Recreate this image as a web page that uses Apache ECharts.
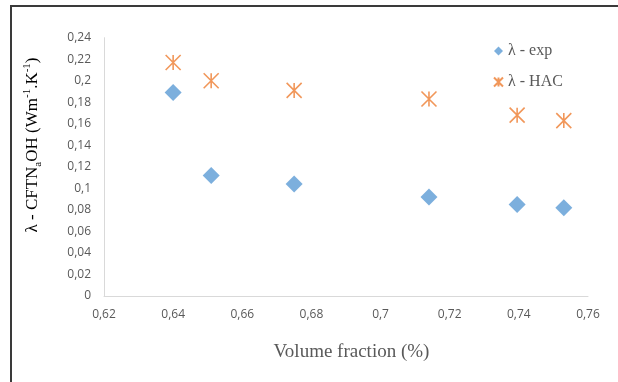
<!DOCTYPE html>
<html>
<head>
<meta charset="utf-8">
<script src="https://cdn.jsdelivr.net/npm/echarts@6/dist/echarts.min.js"></script>
<style>
  html, body { margin: 0; padding: 0; background: #fff; }
  #chart { width: 618px; height: 382px; }
</style>
</head>
<body>
<div id="chart"></div>
<script>
// Thermal conductivity vs. volume fraction: measured values and HAC model
const volumeFraction = [0.640, 0.651, 0.675, 0.714, 0.7395, 0.753];
const lambdaExp = [0.189, 0.112, 0.104, 0.092, 0.085, 0.082];
const lambdaHac = [0.217, 0.200, 0.191, 0.183, 0.168, 0.163];
const seriesNames = ['λ - exp', 'λ - HAC'];

const xAxisRange = { min: 0.62, max: 0.76, step: 0.02 };
const yAxisRange = { min: 0, max: 0.24, step: 0.02 };

// comma decimal separator, trailing zeros dropped (0,2 / 0,1 / 0)
function decimalComma(v) {
  let s = (Math.round(v * 1000) / 1000).toFixed(2);
  s = s.replace(/0+$/, '').replace(/\.$/, '');
  return s.replace('.', ',');
}

// asterisk marker: an X with a vertical stroke through it
const asteriskPath = 'path://M0,0L10,10M10,0L0,10M5,0L5,10';

const textGray = '#595959';
const serif = '"Liberation Serif", "Times New Roman", serif';
const sans = '"Open Sans", "Liberation Sans", sans-serif';

const chart = echarts.init(document.getElementById('chart'), null, { renderer: 'canvas' });

chart.setOption({
  animation: false,
  backgroundColor: '#ffffff',
  grid: { left: 104, right: 30, top: 37.7, bottom: 86, containLabel: false },
  legend: {
    orient: 'vertical',
    left: 488,
    top: 38,
    itemWidth: 9,
    itemHeight: 9,
    itemGap: 15,
    textStyle: { fontFamily: serif, fontSize: 16, color: textGray },
    data: [
      { name: seriesNames[0], icon: 'diamond' },
      { name: seriesNames[1], icon: asteriskPath }
    ]
  },
  xAxis: {
    type: 'value',
    min: xAxisRange.min,
    max: xAxisRange.max,
    interval: xAxisRange.step,
    axisLine: { show: true, lineStyle: { color: '#d9d9d9', width: 1 } },
    axisTick: { show: false },
    splitLine: { show: false },
    axisLabel: {
      margin: 13,
      fontFamily: sans,
      fontSize: 12,
      color: textGray,
      formatter: decimalComma
    },
    name: 'Volume fraction (%)',
    nameLocation: 'middle',
    nameGap: 47,
    nameTextStyle: { fontFamily: serif, fontSize: 19, color: textGray, padding: [0, 0, 0, 11] }
  },
  yAxis: {
    type: 'value',
    min: yAxisRange.min,
    max: yAxisRange.max,
    interval: yAxisRange.step,
    axisLine: { show: true, lineStyle: { color: '#d9d9d9', width: 1 } },
    axisTick: { show: false },
    splitLine: { show: false },
    axisLabel: {
      margin: 13,
      fontFamily: sans,
      fontSize: 12,
      color: textGray,
      formatter: decimalComma
    }
  },
  graphic: [
    // frame along the top and left edges
    {
      type: 'polyline',
      silent: true,
      shape: { points: [[11, 382], [11, 6], [618, 6]] },
      style: { stroke: '#3a3a3a', lineWidth: 2, fill: null }
    },
    {
      type: 'text',
      x: 33,
      y: 145,
      rotation: Math.PI / 2,
      style: {
        text: '{m|λ - CFTN}{sub|a}{m|OH (Wm}{sup|-1}{m|.K}{sup|-1}{m|)}',
        align: 'center',
        verticalAlign: 'middle',
        rich: {
          m: { fontFamily: serif, fontSize: 17, color: textGray, lineHeight: 22 },
          sub: { fontFamily: serif, fontSize: 11, color: textGray, verticalAlign: 'bottom', lineHeight: 22 },
          sup: { fontFamily: serif, fontSize: 11, color: textGray, verticalAlign: 'top', lineHeight: 22 }
        }
      }
    }
  ],
  series: [
    {
      name: seriesNames[0],
      type: 'scatter',
      symbol: 'diamond',
      symbolSize: 17,
      itemStyle: { color: '#5b9bd5' },
      data: volumeFraction.map((x, i) => [x, lambdaExp[i]])
    },
    {
      name: seriesNames[1],
      type: 'scatter',
      symbol: asteriskPath,
      symbolSize: 15,
      itemStyle: { color: 'rgba(0,0,0,0)', borderColor: '#ed7d31', borderWidth: 1.6 },
      data: volumeFraction.map((x, i) => [x, lambdaHac[i]])
    }
  ]
});
</script>
</body>
</html>
